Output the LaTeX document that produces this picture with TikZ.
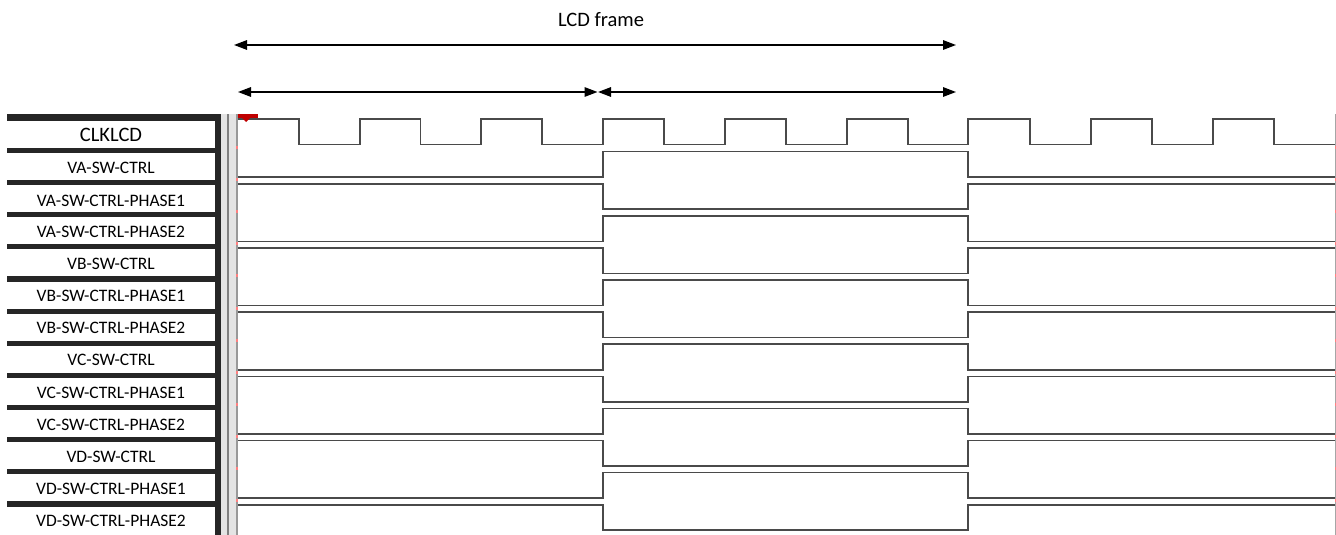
\documentclass[tikz,border=0pt]{standalone}
\usepackage{fontspec}
\setmainfont{Carlito}
\usetikzlibrary{arrows.meta}
\definecolor{wave}{HTML}{4A4A4A}
\definecolor{panel}{HTML}{262626}
\definecolor{sepgray}{HTML}{E4E4E4}
\definecolor{tick}{HTML}{FF8080}
\tikzset{
  wavestyle/.style={draw=wave, line width=1.6pt, line join=miter},
  labelbox/.style={fill=white, draw=none},
  labeltext/.style={font=\fontsize{17.5}{20}\selectfont, anchor=center, inner sep=0pt},
  dimarrow/.style={line width=1.5pt, {Triangle[length=13pt,width=9.5pt]}-{Triangle[length=13pt,width=9.5pt]}},
}
\begin{document}
\begin{tikzpicture}[x=1pt,y=-1pt]
\useasboundingbox (0,0) rectangle (1336,535);
% label panel background
\fill[panel] (7,114) rectangle (221,535);
% separator (double grey line)
\fill[sepgray] (221,114) rectangle (237,535);
\draw[gray, line width=1.5pt] (228,114) -- (228,535);
\draw[gray!80, line width=1.2pt] (237,114) -- (237,535);
% right edge
\draw[gray!70, line width=1pt] (1335.5,114) -- (1335.5,535);
% label boxes
\foreach \i in {0,...,11}{
  \fill[labelbox] (7,121+32.1*\i) rectangle (215,148+32.1*\i);
}
\fill[labelbox] (7,507) rectangle (215,535);
% labels
\node[labeltext, font=\fontsize{20.5}{24}\selectfont] (l0) at (111,134.5) {CLKLCD};
\node[labeltext] (l1) at (111,167.5) {VA-SW-CTRL};
\node[labeltext] (l2) at (111,200.5) {VA-SW-CTRL-PHASE1};
\node[labeltext] (l3) at (111,231.5) {VA-SW-CTRL-PHASE2};
\node[labeltext] (l4) at (111,264) {VB-SW-CTRL};
\node[labeltext] (l5) at (111,296) {VB-SW-CTRL-PHASE1};
\node[labeltext] (l6) at (111,328) {VB-SW-CTRL-PHASE2};
\node[labeltext] (l7) at (111,360) {VC-SW-CTRL};
\node[labeltext] (l8) at (111,392.5) {VC-SW-CTRL-PHASE1};
\node[labeltext] (l9) at (111,425) {VC-SW-CTRL-PHASE2};
\node[labeltext] (l10) at (111,457) {VD-SW-CTRL};
\node[labeltext] (l11) at (111,489) {VD-SW-CTRL-PHASE1};
\node[labeltext] (l12) at (111,521) {VD-SW-CTRL-PHASE2};
% pink ticks
\foreach \i in {0,...,11}{
  \draw[tick, line width=1.5pt] (237,146+32.1*\i) -- (237,149+32.1*\i);
  \draw[tick, line width=1.5pt] (1335.5,146+32.1*\i) -- (1335.5,149+32.1*\i);
}
% clock
\draw[wavestyle] (238,119) -| (299,144.5) -| (360,119) -| (420.5,144.5) -| (481,119) -| (542,144.5) -| (603,119) -| (664,144.5) -| (725,119) -| (786,144.5) -| (847,119) -| (908,144.5) -| (968,119) -| (1030,144.5) -| (1091,119) -| (1152,144.5) -| (1213,119) -| (1274,144.5) -- (1335,144.5);
% control signals
\foreach \i in {1,...,12}{
  \pgfmathsetmacro{\yh}{119.5+32.1*\i}
  \pgfmathsetmacro{\yl}{\yh+25.5}
  \ifodd\i
    \draw[wavestyle] (238,\yl) -- (603,\yl) -- (603,\yh) -- (968,\yh) -- (968,\yl) -- (1335,\yl);
  \else
    \draw[wavestyle] (238,\yh) -- (603,\yh) -- (603,\yl) -- (968,\yl) -- (968,\yh) -- (1335,\yh);
  \fi
}
% marker
\fill[red!75!black] (238,114) rectangle (258,118);
\fill[red!75!black] (241,117) -- (251,117) -- (246,122) -- cycle;
% title and arrows
\node[font=\fontsize{20.5}{24}\selectfont, inner sep=0pt] (title) at (601,20) {LCD frame};
\coordinate (fa) at (234,45);
\coordinate (fb) at (956,45);
\coordinate (ha) at (238,92);
\coordinate (hm1) at (597.5,92);
\coordinate (hm2) at (598,92);
\coordinate (hb) at (956,92);
\draw[dimarrow] (fa) -- (fb);
\draw[dimarrow] (ha) -- (hm1);
\draw[dimarrow] (hm2) -- (hb);
\end{tikzpicture}
\end{document}
